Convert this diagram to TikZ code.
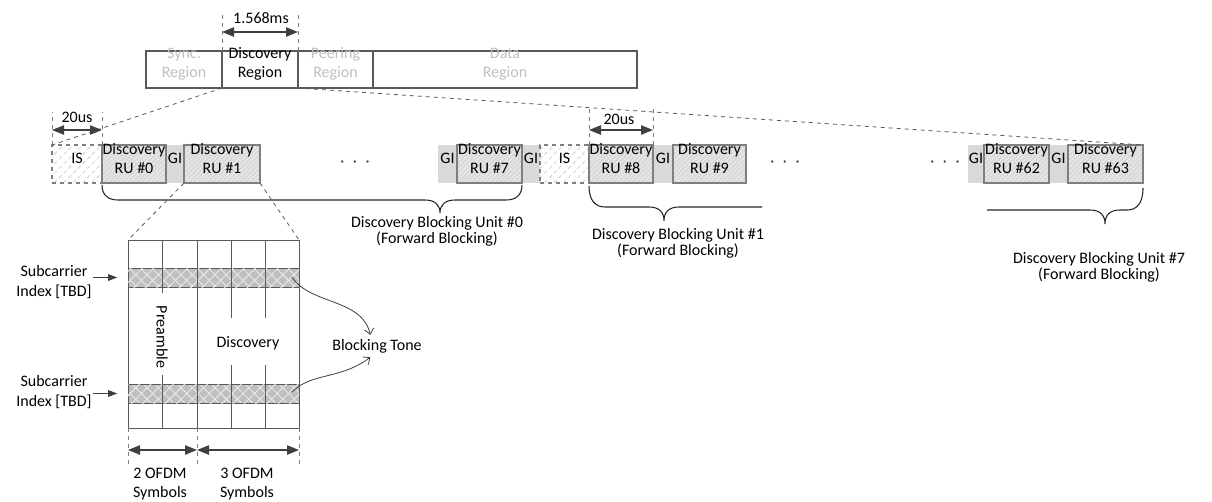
\documentclass[tikz,border=0pt]{standalone}
\usepackage{fontspec}
\setmainfont{Carlito}
\usetikzlibrary{arrows.meta,patterns.meta,fit}
\definecolor{boxline}{HTML}{7F7F7F}
\definecolor{darkline}{HTML}{595959}
\definecolor{arrowcol}{HTML}{404040}
\definecolor{gifill}{HTML}{D9D9D9}
\definecolor{rufill}{HTML}{D9D9D9}
\definecolor{rustripe}{HTML}{EFEFEF}
\definecolor{isstripe}{HTML}{D0D0D0}
\definecolor{blockfill}{HTML}{BFBFBF}
\definecolor{blockstripe}{HTML}{E8E8E8}
\definecolor{faded}{HTML}{BFBFBF}
\begin{document}
\begin{tikzpicture}[x=0.75pt,y=-0.75pt,font=\fontsize{12}{14.5}\selectfont,
  box/.style={inner sep=0pt,outer sep=0pt,align=center},
  region/.style={box,draw=darkline,line width=0.8pt},
  rubox/.style={box,draw=boxline,line width=0.8pt,preaction={fill=rufill},
    pattern={Lines[angle=45,distance=2.5pt,line width=0.6pt]},pattern color=rustripe},
  isbox/.style={box,draw=boxline,line width=0.8pt,dashed,
    pattern={Lines[angle=45,distance=5pt,line width=0.6pt]},pattern color=isstripe},
  gibox/.style={box,fill=gifill},
  blockrow/.style={box,draw=darkline,line width=0.6pt,preaction={fill=blockfill},
    postaction={pattern={Lines[angle=45,distance=6pt,line width=0.7pt]},pattern color=blockstripe},
    pattern={Lines[angle=-45,distance=6pt,line width=0.7pt]},pattern color=blockstripe},
  dimline/.style={draw=boxline,dashed,line width=0.6pt},
  dimarrow/.style={draw=arrowcol,fill=arrowcol,line width=1pt,
    {Triangle[length=9pt,width=7pt]}-{Triangle[length=9pt,width=7pt]}},
  subarrow/.style={draw=arrowcol,fill=arrowcol,line width=0.8pt,-{Triangle[length=7pt,width=5pt]}},
  zoomline/.style={draw=darkline,dashed,line width=0.6pt},
  curvy/.style={draw=arrowcol,line width=0.6pt,-{Straight Barb[length=4pt,width=7pt]}},
  brace/.style={draw=black!85,line width=0.8pt},
  gridline/.style={draw=darkline,line width=0.6pt},
  lbl/.style={align=center,inner sep=1pt},
  ulabel/.style={align=center,inner sep=1pt,font=\fontsize{12}{12.2}\selectfont},
  dotsnode/.style={inner sep=0pt,text=arrowcol}
]
\useasboundingbox (0,0) rectangle (1212,501);

% ---- top frame bar ----
\node[region,fit={(146,51) (222,88)},text=faded] (sync) {Sync.\\Region};
\node[region,fit={(222,51) (298,88)}] (disc) {Discovery\\Region};
\node[region,fit={(298,51) (373,88)},text=faded] (peer) {Peering\\Region};
\node[region,fit={(373,51) (637,88)},text=faded] (data) {Data\\Region};

\draw[dimline] (disc.north west) -- ++(0,-39);
\draw[dimline] (disc.north east) -- ++(0,-39);
\draw[dimarrow] ([yshift=14.25pt]disc.north west) -- ([yshift=14.25pt]disc.north east);
\node[lbl] (dur) at (261,18) {1.568ms};

% ---- RU row ----
\node[gibox,fit={(166,145) (184,183)}] (gi0) {GI};
\node[gibox,fit={(438,145) (457,183)}] (gi6) {GI};
\node[gibox,fit={(522,145) (540,183)}] (gi7) {GI};
\node[gibox,fit={(653,145) (673,183)}] (gi8) {GI};
\node[gibox,fit={(968,145) (984,183)}] (gi62) {GI};
\node[gibox,fit={(1049,145) (1068,183)}] (gi63) {GI};

\node[isbox,fit={(52,145) (102,183)}] (is1) {IS};
\node[rubox,fit={(102,145) (166,183)}] (ru0) {Discovery\\RU \#0};
\node[rubox,fit={(184,145) (260,183)}] (ru1) {Discovery\\RU \#1};
\node[dotsnode] (dots1) at (355,164) {·\hspace{6.5pt}·\hspace{6.5pt}·};
\node[rubox,fit={(457,145) (522,183)}] (ru7) {Discovery\\RU \#7};
\node[isbox,fit={(540,145) (589,183)}] (is2) {IS};
\node[rubox,fit={(589,145) (653,183)}] (ru8) {Discovery\\RU \#8};
\node[rubox,fit={(673,145) (746,183)}] (ru9) {Discovery\\RU \#9};
\node[dotsnode] (dots2) at (785,164) {·\hspace{6.5pt}·\hspace{6.5pt}·};
\node[dotsnode] (dots3) at (945,164) {·\hspace{6.5pt}·\hspace{6.5pt}·};
\node[rubox,fit={(984,145) (1049,183)}] (ru62) {Discovery\\RU \#62};
\node[rubox,fit={(1068,145) (1143,183)}] (ru63) {Discovery\\RU \#63};

% zoom lines from discovery region
\draw[zoomline] (disc.south west) -- (is1.north west);
\draw[zoomline] (disc.south east) -- (ru63.north east);

% 20us dimensions
\draw[dimline] (is1.north west) -- ++(0,-33);
\draw[dimline] (ru0.north west) -- ++(0,-33);
\draw[dimarrow] ([yshift=11.25pt]is1.north west) -- ([yshift=11.25pt]ru0.north west);
\node[lbl] (us1) at (77,117) {20us};
\draw[dimline] (ru8.north west) -- ++(0,-37);
\draw[dimline] (ru8.north east) -- ++(0,-37);
\draw[dimarrow] ([yshift=11.25pt]ru8.north west) -- ([yshift=11.25pt]ru8.north east);
\node[lbl] (us2) at (619,119) {20us};

% braces
\draw[brace] (102,185) .. controls (102,195) and (108,200) .. (118,200) -- (425,200)
  .. controls (435,200) and (440,205) .. (440,213) .. controls (440,205) and (445,200) .. (455,200)
  -- (506,200) .. controls (516,200) and (522,195) .. (522,185);
\node[ulabel] (bu0) at (437,231) {Discovery Blocking Unit \#0\\(Forward Blocking)};
\draw[brace] (589,186) .. controls (589,200) and (595,207) .. (605,207) -- (649,207)
  .. controls (659,207) and (664,212) .. (664,221) .. controls (664,212) and (669,207) .. (679,207)
  -- (762,207);
\node[ulabel] (bu1) at (678,243) {Discovery Blocking Unit \#1\\(Forward Blocking)};
\draw[brace] (987,210) -- (1090,210) .. controls (1100,210) and (1105,215) .. (1105,224)
  .. controls (1105,215) and (1110,210) .. (1120,210) -- (1127,210)
  .. controls (1137,210) and (1143,203) .. (1143,188);
\node[ulabel] (bu7) at (1099,267) {Discovery Blocking Unit \#7\\(Forward Blocking)};

% ---- OFDM grid ----
\node[box,draw=darkline,line width=0.6pt,fit={(128,240) (299,428)}] (grid) {};
\node[blockrow,fit={(128,268) (299,287)}] (row1) {};
\node[blockrow,fit={(128,384) (299,403)}] (row2) {};
\draw[gridline] (162,240) -- (162,293);
\draw[gridline] (162,375) -- (162,428);
\draw[gridline] (197,240) -- (197,428);
\draw[gridline] (231,240) -- (231,318);
\draw[gridline] (231,365) -- (231,428);
\draw[gridline] (265,240) -- (265,318);
\draw[gridline] (265,365) -- (265,428);

\draw[zoomline] (ru1.south west) -- (grid.north west);
\draw[zoomline] (ru1.south east) -- (grid.north east);

\node[rotate=-90,inner sep=1pt] (pre) at (162,337) {Preamble};
\node[lbl] (dlab) at (248,343) {Discovery};

% subcarrier labels
\node[lbl] (sub1) at (54,282) {Subcarrier\\Index [TBD]};
\node[lbl] (sub2) at (54,392) {Subcarrier\\Index [TBD]};
\draw[subarrow] (sub1.east |- row1.west) -- ([xshift=-8pt]row1.west);
\draw[subarrow] (sub2.east |- row2.west) -- ([xshift=-8pt]row2.west);

% blocking tone
\node[lbl,inner sep=3pt] (tone) at (377,346) {Blocking Tone};
\coordinate (t1) at (292,277);
\coordinate (t2) at (292,392);
\draw[curvy] (t1) .. controls (310,305) and (362,298) .. ([xshift=-5pt]tone.north);
\draw[curvy] (t2) .. controls (312,372) and (340,380) .. ([xshift=-5pt]tone.south);

% bottom dimensions
\draw[dimline] (grid.south west) -- ++(0,39);
\draw[dimline] (197,428) -- (197,467);
\draw[dimline] (grid.south east) -- ++(0,39);
\coordinate (b0) at (128,450);
\coordinate (b1) at (197,450);
\coordinate (b2) at (299,450);
\draw[dimarrow] (b0) -- (b1);
\draw[dimarrow] (b1) -- (b2);
\node[lbl] (sym2) at (160,484) {2 OFDM\\Symbols};
\node[lbl] (sym3) at (247,484) {3 OFDM\\Symbols};
\end{tikzpicture}
\end{document}
